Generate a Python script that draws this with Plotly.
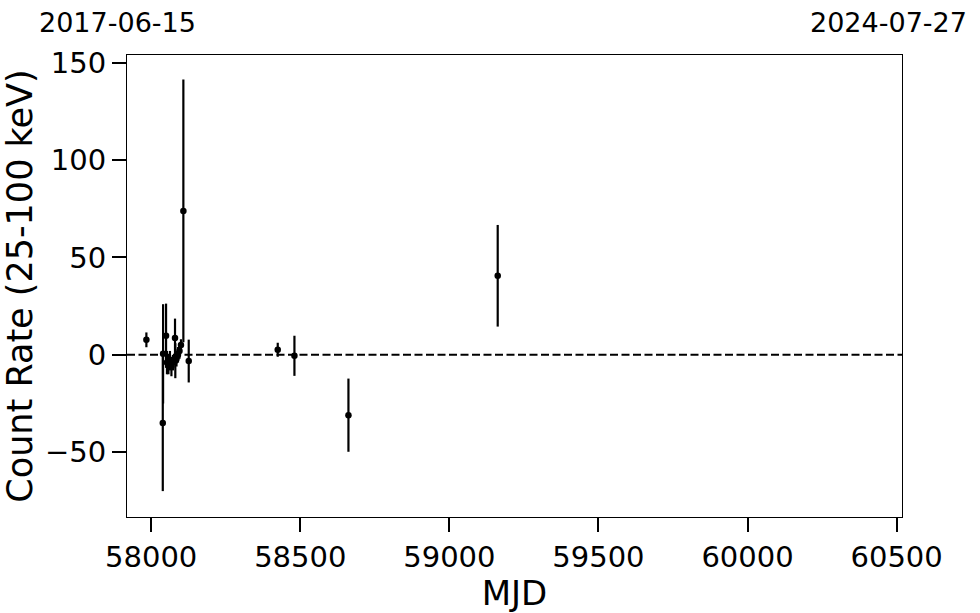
import plotly.graph_objects as go

# Data
mjd = [57984, 58039, 58040, 58050, 58053, 58058, 58063, 58068, 58073, 58080, 58081,
       58085, 58090, 58095, 58100, 58108, 58126, 58424.5, 58480.5, 58661.6, 59162.2]
rate = [7.7, -35.0, 0.5, 9.8, -4.0, -5.0, -3.0, -6.0, -4.0, 8.6, -3.0,
        -2.0, 0.0, 2.0, 5.0, 73.9, -3.2, 2.6, -0.5, -31.0, 40.6]
err = [3.8, 35.0, 25.5, 16.5, 6.0, 5.0, 5.0, 5.0, 4.0, 10.0, 9.0,
       4.0, 4.0, 4.0, 3.0, 67.5, 11.0, 3.6, 10.3, 18.8, 26.1]

x_range = [57919, 60518]
date_labels = ["2017-06-15", "2024-07-27"]
x_ticks = [58000, 58500, 59000, 59500, 60000, 60500]
x_ticklabels = ["58000", "58500", "59000", "59500", "60000", "60500"]
y_ticks = [-50, 0, 50, 100, 150]
y_ticklabels = ["\u221250", "0", "50", "100", "150"]

FONT = "DejaVu Sans"

fig = go.Figure()
fig.add_trace(go.Scatter(
    x=mjd, y=rate, mode="markers",
    marker=dict(color="black", size=6.5),
    error_y=dict(type="data", array=err, visible=True, color="black",
                 thickness=2.2, width=0),
    showlegend=False,
))

fig.add_shape(type="line", xref="paper", x0=0, x1=1, yref="y", y0=0, y1=0,
              line=dict(color="black", width=2, dash="8px,3.5px"))

fig.add_annotation(text=date_labels[0], xref="paper", yref="paper",
                   x=-0.012, y=1.071, showarrow=False, xanchor="center", yanchor="middle",
                   font=dict(family=FONT, size=27, color="black"))
fig.add_annotation(text=date_labels[1], xref="paper", yref="paper",
                   x=0.982, y=1.071, showarrow=False, xanchor="center", yanchor="middle",
                   font=dict(family=FONT, size=27, color="black"))

axis_common = dict(showline=True, linecolor="black", linewidth=1, mirror=True,
                   ticks="outside", ticklen=14, tickwidth=2, tickcolor="black",
                   showgrid=False, zeroline=False,
                   tickfont=dict(family=FONT, size=29, color="black"))

fig.update_xaxes(range=x_range, tickvals=x_ticks, ticktext=x_ticklabels,
                 title=dict(text="MJD", font=dict(family=FONT, size=34, color="black"),
                            standoff=10),
                 **axis_common)
fig.update_yaxes(range=[-83.3, 154.0], tickvals=y_ticks, ticktext=y_ticklabels,
                 title=dict(text="Count Rate (25-100 keV)",
                            font=dict(family=FONT, size=35, color="black"), standoff=14),
                 **axis_common)

fig.update_layout(
    width=980, height=613,
    margin=dict(l=127, r=78, t=55, b=96, autoexpand=False),
    paper_bgcolor="white", plot_bgcolor="white",
    font=dict(family=FONT, color="black"),
)

fig.write_html("out.html",
               config={"displayModeBar": False},
               post_script="document.body.style.margin='0';document.body.style.overflow='hidden';")
